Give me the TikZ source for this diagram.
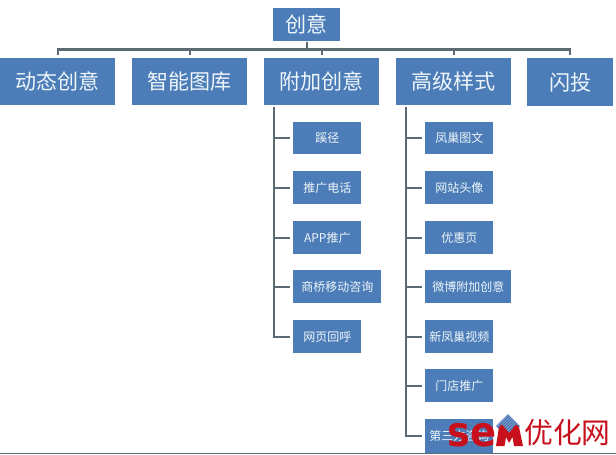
\documentclass[tikz,border=0pt]{standalone}
\usepackage{fontspec}
\setmainfont{Noto Sans CJK SC}
\newfontfamily\wmlatin{DejaVu Sans}
\usetikzlibrary{calc}
\definecolor{boxblue}{HTML}{4C7DB8}
\definecolor{linegrey}{HTML}{5C6B73}
\definecolor{wmred}{HTML}{C8101C}
\definecolor{wmblue}{HTML}{3F6FB0}
\definecolor{txt}{HTML}{EEF6FA}
\tikzset{
  x=0.75pt,y=-0.75pt,
  boxbase/.style={fill=boxblue,text=txt,inner sep=0pt,anchor=north west,align=center},
  bigbox/.style={boxbase,font=\fontsize{15.8}{18}\selectfont},
  smallbox/.style={boxbase,font=\fontsize{9}{11}\selectfont},
  conn/.style={draw=linegrey,line width=1.9pt},
  stubline/.style={draw=linegrey,line width=1.6pt,shorten >=2pt},
  dropline/.style={draw=linegrey,line width=1.5pt,shorten >=2.2pt},
}
\newcommand{\bx}[6]{\node[#1,minimum width=#4*0.75pt,minimum height=#5*0.75pt] (#2) at (#3) {#6};}
\begin{document}
\begin{tikzpicture}
\useasboundingbox (0,0) rectangle (616,454);
\fill[white] (0,0) rectangle (616,454);
% bottom edge of the screenshot
\coordinate (edgeL) at (0,453.4);
\coordinate (edgeR) at (616,453.4);
\draw[draw=linegrey,line width=0.9pt] (edgeL) -- (edgeR);
% top levels
\bx{bigbox}{root}{273,8}{67}{33}{创意}
\bx{bigbox}{a}{0,58}{115}{47}{动态创意}
\bx{bigbox}{b}{132,58}{115}{47}{智能图库}
\bx{bigbox}{c}{264,58}{115}{47}{附加创意}
\bx{bigbox}{d}{396,58}{115}{47}{高级样式}
\bx{bigbox}{e}{527,58}{86}{48}{闪投}
% left column
\bx{smallbox}{c1}{293,122}{68}{32}{蹊径}
\bx{smallbox}{c2}{293,171}{68}{33}{推广电话}
\bx{smallbox}{c3}{293,221}{68}{33}{APP推广}
\bx{smallbox}{c4}{293,270}{88}{33}{商桥移动咨询}
\bx{smallbox}{c5}{293,320}{68}{33}{网页回呼}
% right column
\bx{smallbox}{d1}{425,122}{68}{32}{凤巢图文}
\bx{smallbox}{d2}{425,171}{68}{33}{网站头像}
\bx{smallbox}{d3}{425,221}{68}{33}{优惠页}
\bx{smallbox}{d4}{425,270}{86}{33}{微博附加创意}
\bx{smallbox}{d5}{425,320}{68}{33}{新凤巢视频}
\bx{smallbox}{d6}{425,369}{68}{33}{门店推广}
\bx{smallbox}{d7}{425,419}{68}{34}{第三方咨询}
% connectors
\coordinate (bus) at (307,49.5);
\coordinate (busL) at (58,49.5);
\coordinate (busR) at (570,49.5);
\draw[conn] (root.south -| bus) -- (bus);
\draw[conn,line cap=rect] (busL) -- (busR);
\foreach \n in {a,b,c,d,e} \draw[dropline] (bus -| \n.north) -- (\n.north);
\coordinate (ctop) at (274,107);
\coordinate (dtop) at (406,107);
\draw[conn] (ctop) -- ($(ctop |- c5.west)+(0,1)$);
\draw[conn] (dtop) -- ($(dtop |- d7.west)+(0,1)$);
\foreach \n in {c1,c2,c3,c4,c5} \draw[stubline] (ctop |- \n.west) -- (\n.west);
\foreach \n in {d1,d2,d3,d4,d5,d6,d7} \draw[stubline] (dtop |- \n.west) -- (\n.west);
% watermark
\begin{scope}
\clip (508,414) -- (520,426) -- (508,438) -- (496,426) -- cycle;
\fill[white] (490,410) rectangle (526,440);
\foreach \k in {-8,-5,...,40}
  \draw[wmblue,line width=1.1pt] (490+\k,440) -- (490+\k+28,412);
\end{scope}
\node[inner sep=0pt,text=wmred,anchor=base west,font=\wmlatin\bfseries\fontsize{31}{31}\selectfont,xscale=0.93] (wmsem) at (447,446) {se};
\fill[wmred] (496,446) -- (499,427) -- (502,424.5) -- (509,433) -- (516,424.5) -- (519,427) -- (523,446) -- (514,446) -- (512.5,437) -- (509,443) -- (506,437) -- (504.5,446) -- cycle;
\node[inner sep=0pt,text=wmred,anchor=west,font=\fontsize{21.6}{22}\selectfont] (wmcn) at (524,432.5) {优化网};
\end{tikzpicture}
\end{document}
